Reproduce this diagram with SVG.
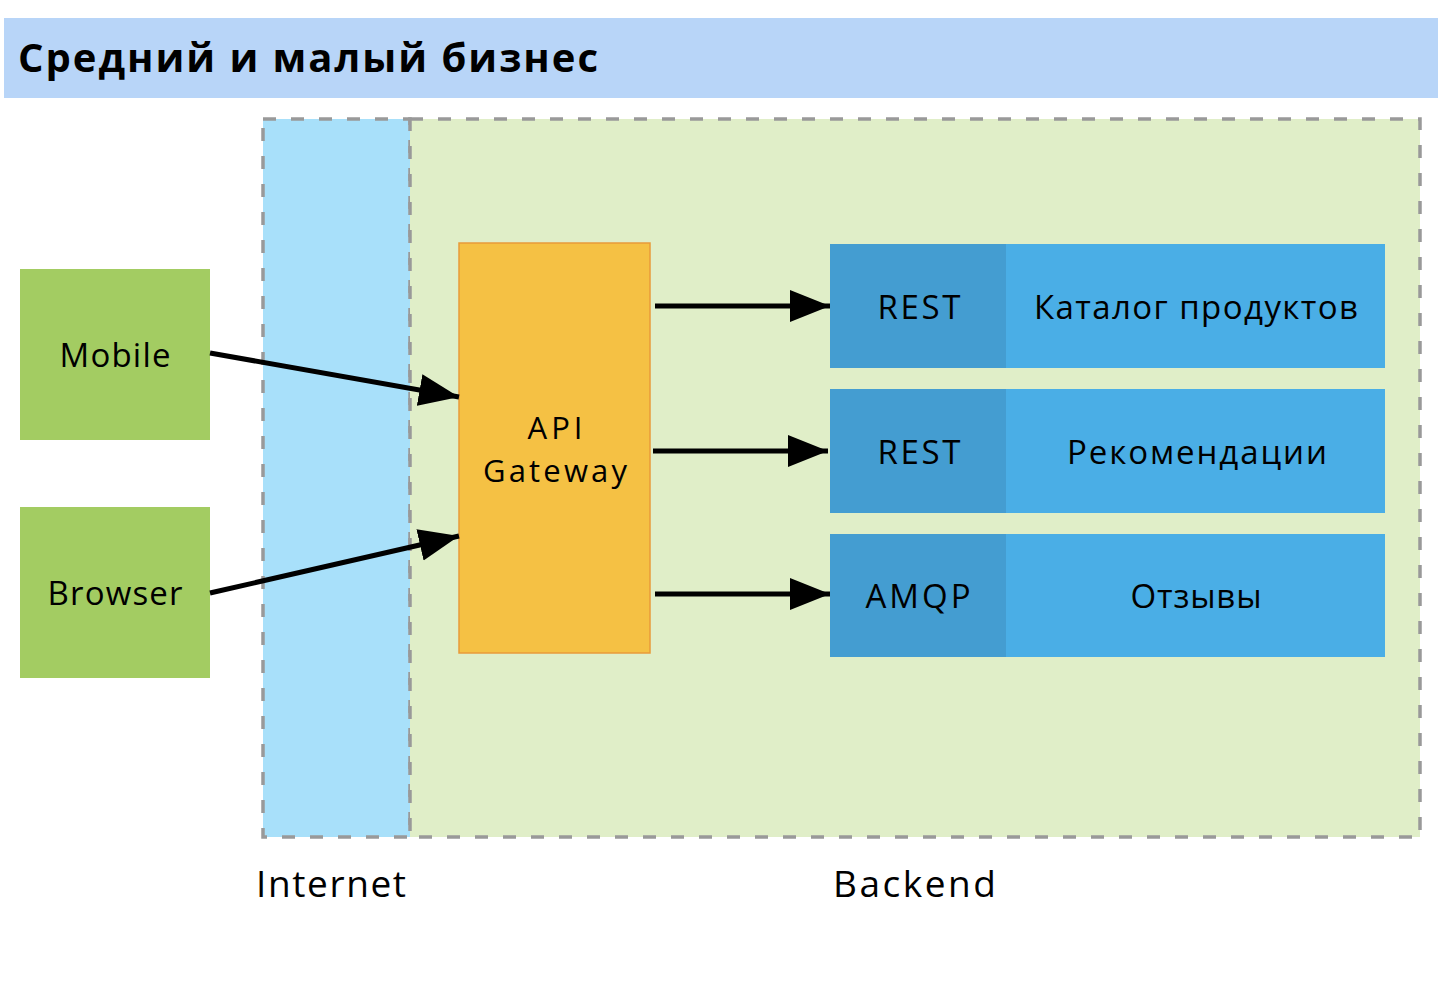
<svg xmlns="http://www.w3.org/2000/svg" width="1450" height="986" viewBox="0 0 1450 986">
<style>
text{font-family:"Open Sans","Noto Sans","Liberation Sans",sans-serif;fill:#000;}
.t{font-size:33px;text-anchor:middle;}
.g{font-size:31px;text-anchor:middle;}
.lbl{font-size:37px;}
.zone{stroke:#999;stroke-width:3.5;stroke-dasharray:13 15;}
.client{fill:#a3cc62;}
.proto{fill:#449dd1;}
.svc{fill:#4aaee6;}
.conn{stroke:#000;stroke-width:5;fill:none;marker-end:url(#ah);}
</style>
<defs>
<marker id="ah" markerUnits="userSpaceOnUse" markerWidth="44" markerHeight="34" refX="40" refY="16" orient="auto">
<path d="M0,0 L40,16 L0,32 Z" fill="#000"/>
</marker>
</defs>
<rect width="1450" height="986" fill="#fff"/>
<g id="title">
<rect x="4" y="18" width="1434" height="80" fill="#b8d5f8"/>
<text x="18" y="72" style="font-size:40px;font-weight:bold" textLength="580" lengthAdjust="spacing">Средний и малый бизнес</text>
</g>
<g id="internet">
<rect x="263" y="119" width="147" height="718" fill="#a8e0fa" class="zone"/>
<text class="lbl" x="256" y="897" textLength="150" lengthAdjust="spacing">Internet</text>
</g>
<g id="backend">
<rect x="410" y="119" width="1010" height="718" fill="#e0eec8" class="zone"/>
<text class="lbl" x="833" y="897" textLength="163" lengthAdjust="spacing">Backend</text>
</g>
<g id="mobile">
<rect class="client" x="20" y="269" width="190" height="171"/>
<text class="t" x="115" y="367" textLength="111" lengthAdjust="spacing">Mobile</text>
</g>
<g id="browser">
<rect class="client" x="20" y="507" width="190" height="171"/>
<text class="t" x="115" y="605" textLength="135" lengthAdjust="spacing">Browser</text>
</g>
<g id="gateway">
<rect x="459" y="243" width="191" height="410" fill="#f5c144" stroke="#e89a3a" stroke-width="1.5"/>
<text class="g" x="555" y="439" textLength="55" lengthAdjust="spacing">API</text>
<text class="g" x="555" y="482" textLength="144" lengthAdjust="spacing">Gateway</text>
</g>
<g id="catalog">
<rect class="svc" x="830" y="244" width="555" height="124"/>
<rect class="proto" x="830" y="244" width="176" height="124"/>
<text class="t" x="919" y="319" textLength="83" lengthAdjust="spacing">REST</text>
<text class="t" x="1196" y="319" textLength="324" lengthAdjust="spacing">Каталог продуктов</text>
</g>
<g id="recommendations">
<rect class="svc" x="830" y="389" width="555" height="124"/>
<rect class="proto" x="830" y="389" width="176" height="124"/>
<text class="t" x="919" y="464" textLength="83" lengthAdjust="spacing">REST</text>
<text class="t" x="1197" y="464" textLength="260" lengthAdjust="spacing">Рекомендации</text>
</g>
<g id="reviews">
<rect class="svc" x="830" y="534" width="555" height="123"/>
<rect class="proto" x="830" y="534" width="176" height="123"/>
<text class="t" x="918" y="608" textLength="105" lengthAdjust="spacing">AMQP</text>
<text class="t" x="1196" y="608" textLength="131" lengthAdjust="spacing">Отзывы</text>
</g>
<g id="connectors">
<line class="conn" x1="210" y1="353" x2="459" y2="397"/>
<line class="conn" x1="210" y1="593" x2="459" y2="536"/>
<line class="conn" x1="655" y1="306" x2="830" y2="306"/>
<line class="conn" x1="653" y1="451" x2="828" y2="451"/>
<line class="conn" x1="655" y1="594" x2="830" y2="594"/>
</g>
</svg>
